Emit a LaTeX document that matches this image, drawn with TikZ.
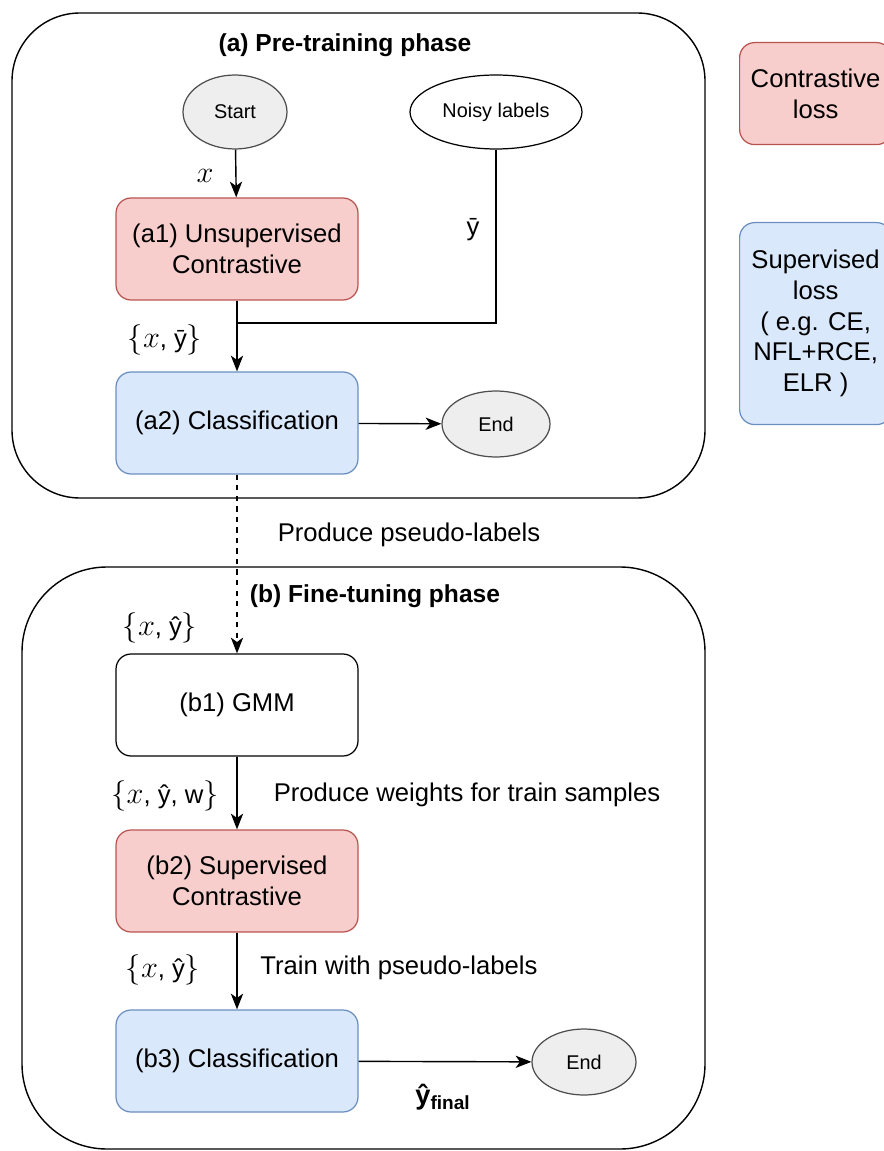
\documentclass[tikz,border=0pt]{standalone}
\usepackage{fontspec}
\setmainfont{Liberation Sans}
\usepackage{tikz}
\usetikzlibrary{calc,arrows.meta,shapes.geometric}
\definecolor{redfill}{HTML}{F8CECC}
\definecolor{reddraw}{HTML}{B85450}
\definecolor{bluefill}{HTML}{DAE8FC}
\definecolor{bluedraw}{HTML}{6C8EBF}
\definecolor{grayfill}{HTML}{EEEEEE}
\definecolor{graydraw}{HTML}{4D4D4D}
\newcommand{\bigtxt}{\fontsize{14.6}{17.5}\selectfont}
\newcommand{\smalltxt}{\fontsize{11.3}{13.5}\selectfont}
\newcommand{\mx}[1]{{\fontsize{18}{20}\selectfont$#1$}}

\begin{document}
\begin{tikzpicture}[x=0.02cm,y=-0.02cm,
    box/.style={rectangle,rounded corners=0.3cm,minimum width=4.84cm,minimum height=2.04cm,align=center,font=\bigtxt,line width=0.7pt},
    redbox/.style={box,fill=redfill,draw=reddraw},
    bluebox/.style={box,fill=bluefill,draw=bluedraw},
    oval/.style={ellipse,inner sep=0pt,font=\smalltxt,line width=0.7pt},
    arr/.style={-{Stealth[length=9pt,width=7pt,inset=2.5pt]},line width=0.8pt},
    lbl/.style={font=\bigtxt,inner sep=0pt}]
                      \useasboundingbox (0,0) rectangle (884,1151);
                      \clip (0,0) rectangle (884,1151);
                      % phase frames
                      \draw[line width=0.8pt,rounded corners=1.36cm] (12,13) rectangle (705,498);
                      \draw[line width=0.8pt,rounded corners=1.7cm] (22,567) rectangle (705,1149);
                      \node[lbl,font=\fontsize{14}{17}\selectfont\bfseries](ttla)at(345,45){(a) Pre-training phase};
                      \node[lbl,font=\fontsize{14}{17}\selectfont\bfseries](ttlb)at(375,596){(b) Fine-tuning phase};
                      % pre-training
                      \node[oval,fill=grayfill,draw=graydraw,minimum width=2.08cm,minimum height=1.48cm](start)at(235,112){Start};
                      \node[oval,fill=white,draw=black,minimum width=3.44cm,minimum height=1.48cm](noisy)at(496,112){Noisy labels};
                      \node[redbox](a1)at(237,249){(a1) Unsupervised\\Contrastive};
                      \node[bluebox](a2)at(237,423){(a2) Classification};
                      \node[oval,fill=grayfill,draw=graydraw,minimum width=2.16cm,minimum height=1.32cm](enda)at(496,424){End};
                      \coordinate(join)at(237,323);
                      \draw[arr](start)--(a1);
                      \draw[line width=0.8pt](noisy.south)|-(join);
                      \draw[arr](a1)--(a2);
                      \draw[arr](a2)--(enda);
                      \node[lbl](lx)at(205,176){\mx{x}};
                      \node[lbl](lybar)at(473,230){ȳ};
                      \node[lbl](lxybar)at(165,340){\mx{\{x}, ȳ\mx{\}}};
                      % fine-tuning
                      \node[box,fill=white,draw=black](b1)at(237,705){(b1) GMM};
                      \node[redbox](b2)at(237,881){(b2) Supervised\\Contrastive};
                      \node[bluebox](b3)at(237,1061){(b3) Classification};
                      \node[oval,fill=grayfill,draw=graydraw,minimum width=2.08cm,minimum height=1.32cm](endb)at(584,1062){End};
                      \draw[arr,dashed](a2)--(b1);
                      \draw[arr](b1)--(b2);
                      \draw[arr](b2)--(b3);
                      \draw[arr](b3)--(endb);
                      \node[lbl](lpseudo)at(409,535){Produce pseudo-labels};
                      \node[lbl](lxyhat)at(160,628){\mx{\{x}, ŷ\mx{\}}};
                      \node[lbl](lxyw)at(165,796){\mx{\{x}, ŷ, w\mx{\}}};
                      \node[lbl](lweights)at(467,795){Produce weights for train samples};
                      \node[lbl](lxyhatb)at(163,970){\mx{\{x}, ŷ\mx{\}}};
                      \node[lbl](ltrain)at(399,968){Train with pseudo-labels};
                      \node[lbl,font=\fontsize{15.5}{17.5}\selectfont\bfseries](lfinal)at(443,1097){ŷ\textsubscript{final}};
                      % legend
                      \node[redbox,minimum width=3.04cm,anchor=north west](lgred)at(739,42){Contrastive\\loss};
                      \node[bluebox,minimum width=3.04cm,minimum height=4.04cm,anchor=north west](lgblue)at(739,222){Supervised\\loss\\( e.g. CE,\\NFL+RCE,\\ELR )};
                  \end{tikzpicture}
\end{document}
